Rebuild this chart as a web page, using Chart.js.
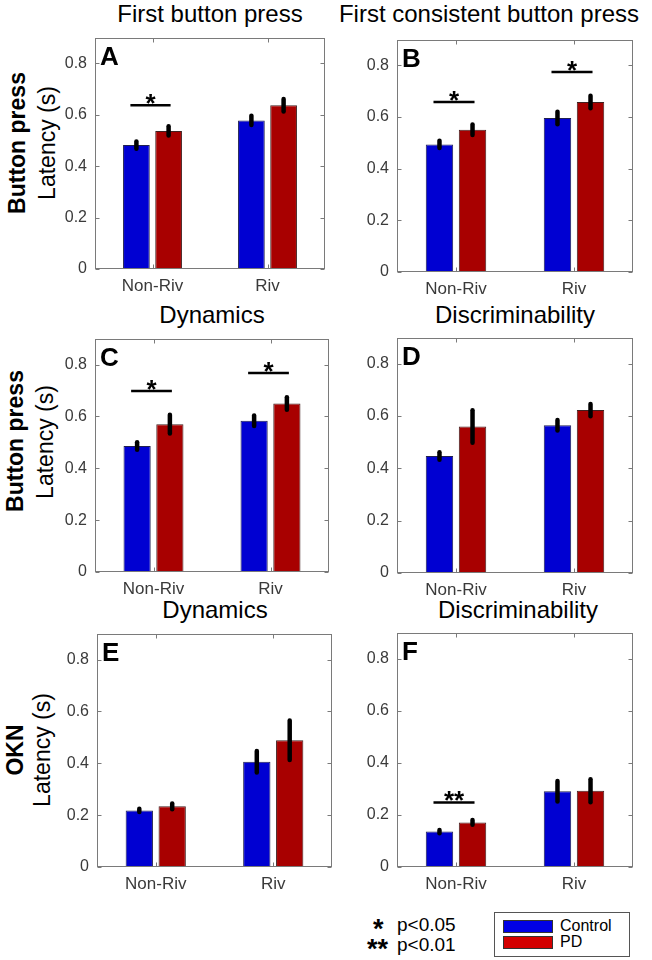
<!DOCTYPE html>
<html><head><meta charset="utf-8">
<script src="https://cdn.jsdelivr.net/npm/chart.js@4/dist/chart.umd.min.js"></script>
<style>
body{margin:0;background:#fff;width:652px;height:960px;position:relative;overflow:hidden;font-family:"Liberation Sans",Arial,Helvetica,sans-serif;}
canvas{position:absolute;}
.t{position:absolute;white-space:nowrap;transform:translate(-50%,-50%);color:#000;font-size:24px;line-height:1.15;}
.rl{position:absolute;white-space:nowrap;transform:translate(-50%,-50%) rotate(-90deg);font-size:23px;color:#000;line-height:1.15;}
.b{font-weight:bold;}
.fn{position:absolute;white-space:nowrap;transform:translateY(-50%);color:#000;line-height:1.15;}
</style></head><body>

<div class="t" style="left:210px;top:14px;">First button press</div>
<div class="t" style="left:489px;top:14px;">First consistent button press</div>
<div class="t" style="left:212px;top:315px;">Dynamics</div>
<div class="t" style="left:515px;top:315px;">Discriminability</div>
<div class="t" style="left:215px;top:610px;">Dynamics</div>
<div class="t" style="left:518px;top:610px;">Discriminability</div>

<div class="rl b" style="left:17px;top:143px;">Button press</div>
<div class="rl" style="left:47px;top:143px;">Latency (s)</div>
<div class="rl b" style="left:15px;top:441px;">Button press</div>
<div class="rl" style="left:45px;top:442px;">Latency (s)</div>
<div class="rl b" style="left:15px;top:750px;">OKN</div>
<div class="rl" style="left:42px;top:750px;">Latency (s)</div>

<div class="fn b" style="left:373px;top:930px;font-size:27px;">*</div>
<div class="fn" style="left:397px;top:925px;font-size:19px;">p&lt;0.05</div>
<div class="fn b" style="left:367px;top:950px;font-size:27px;">**</div>
<div class="fn" style="left:397px;top:945px;font-size:19px;">p&lt;0.01</div>

<div style="position:absolute;left:494px;top:912px;width:134px;height:43px;border:1px solid #555;background:#fff;"></div>
<div style="position:absolute;left:503px;top:920px;width:48px;height:11px;border:1px solid #333;background:#0000e6;"></div>
<div style="position:absolute;left:503px;top:936px;width:48px;height:11px;border:1px solid #333;background:#d40000;"></div>
<div class="fn" style="left:560px;top:926px;font-size:16px;">Control</div>
<div class="fn" style="left:560px;top:942px;font-size:16px;">PD</div>

<canvas id="cA"></canvas><canvas id="cB"></canvas>
<canvas id="cC"></canvas><canvas id="cD"></canvas>
<canvas id="cE"></canvas><canvas id="cF"></canvas>

<script>
// ---------- data ----------
const categories = ['Non-Riv', 'Riv'];
const seriesNames = ['Control', 'PD'];
const yTicks = [0, 0.2, 0.4, 0.6, 0.8];

const A_control = [0.482, 0.578], A_controlErr = [0.020, 0.024];
const A_pd      = [0.537, 0.637], A_pdErr      = [0.024, 0.030];
const A_sig     = [[0, 0.637, '*']];

const B_control = [0.494, 0.596], B_controlErr = [0.020, 0.030];
const B_pd      = [0.551, 0.658], B_pdErr      = [0.026, 0.030];
const B_sig     = [[0, 0.658, '*'], [1, 0.775, '*']];

const C_control = [0.486, 0.583], C_controlErr = [0.020, 0.026];
const C_pd      = [0.570, 0.650], C_pdErr      = [0.042, 0.030];
const C_sig     = [[0, 0.698, '*'], [1, 0.767, '*']];

const D_control = [0.447, 0.565], D_controlErr = [0.020, 0.026];
const D_pd      = [0.560, 0.623], D_pdErr      = [0.068, 0.029];
const D_sig     = [];

const E_control = [0.218, 0.406], E_controlErr = [0.012, 0.047];
const E_pd      = [0.234, 0.489], E_pdErr      = [0.017, 0.082];
const E_sig     = [];

const F_control = [0.136, 0.291], F_controlErr = [0.012, 0.045];
const F_pd      = [0.171, 0.293], F_pdErr      = [0.015, 0.050];
const F_sig     = [[0, 0.248, '**']];

// ---------- layout (plot boxes, pixels) ----------
const panels = [
  {id:'cA', letter:'A', L:95,  T:30,  R:325, B:269, c:A_control, ce:A_controlErr, p:A_pd, pe:A_pdErr, sig:A_sig},
  {id:'cB', letter:'B', L:397, T:32,  R:633, B:272, c:B_control, ce:B_controlErr, p:B_pd, pe:B_pdErr, sig:B_sig},
  {id:'cC', letter:'C', L:95,  T:331, R:329, B:572, c:C_control, ce:C_controlErr, p:C_pd, pe:C_pdErr, sig:C_sig},
  {id:'cD', letter:'D', L:397, T:330, R:633, B:573, c:D_control, ce:D_controlErr, p:D_pd, pe:D_pdErr, sig:D_sig},
  {id:'cE', letter:'E', L:97,  T:626, R:332, B:867, c:E_control, ce:E_controlErr, p:E_pd, pe:E_pdErr, sig:E_sig},
  {id:'cF', letter:'F', L:397, T:625, R:633, B:867, c:F_control, ce:F_controlErr, p:F_pd, pe:F_pdErr, sig:F_sig},
];
const PADL = 45, PADT = 10, PADR = 10, PADB = 35;
const FONT = '"Liberation Sans", Arial, Helvetica, sans-serif';

const decor = {
  id: 'decor',
  afterDatasetsDraw(chart, args, o) {
    const ctx = chart.ctx, a = chart.chartArea, xs = chart.scales.x, ys = chart.scales.y;
    ctx.save();
    // error bars
    ctx.strokeStyle = '#000'; ctx.lineCap = 'round'; ctx.lineWidth = 4.5;
    chart.data.datasets.forEach((ds, i) => {
      const meta = chart.getDatasetMeta(i);
      meta.data.forEach((bar, j) => {
        const v = ds.data[j], e = o.errs[i][j];
        ctx.beginPath();
        ctx.moveTo(bar.x, ys.getPixelForValue(v - e) - 1.5);
        ctx.lineTo(bar.x, ys.getPixelForValue(v + e) + 1.5);
        ctx.stroke();
      });
    });
    // significance
    ctx.lineCap = 'butt'; ctx.lineWidth = 2.5;
    ctx.fillStyle = '#000';
    ctx.font = 'bold 26px ' + FONT;
    ctx.textAlign = 'center'; ctx.textBaseline = 'alphabetic';
    o.sig.forEach(([cat, val, lab]) => {
      const b0 = chart.getDatasetMeta(0).data[cat], b1 = chart.getDatasetMeta(1).data[cat];
      const x0 = b0.x - 6, x1 = b1.x + 2, yy = ys.getPixelForValue(val);
      ctx.beginPath(); ctx.moveTo(x0, yy); ctx.lineTo(x1, yy); ctx.stroke();
      ctx.fillText(lab, (x0 + x1) / 2, yy + 7);
    });
    // box + inward ticks
    ctx.strokeStyle = '#7a7a7a'; ctx.lineWidth = 1;
    const l = Math.round(a.left) + 0.5, r = Math.round(a.right) - 0.5;
    const t = Math.round(a.top) + 0.5, btm = Math.round(a.bottom) - 0.5;
    ctx.strokeRect(l, t, r - l, btm - t);
    ctx.beginPath();
    yTicks.forEach(v => {
      const yy = Math.round(ys.getPixelForValue(v)) + 0.5;
      ctx.moveTo(l, yy); ctx.lineTo(l + 4, yy);
      ctx.moveTo(r, yy); ctx.lineTo(r - 4, yy);
    });
    categories.forEach((c, j) => {
      const xx = Math.round(xs.getPixelForValue(j)) + 0.5;
      ctx.moveTo(xx, btm); ctx.lineTo(xx, btm - 4);
      ctx.moveTo(xx, t); ctx.lineTo(xx, t + 4);
    });
    ctx.stroke();
    // panel letter
    ctx.fillStyle = '#000';
    ctx.font = 'bold 26px ' + FONT;
    ctx.textAlign = 'left';
    ctx.fillText(o.letter, a.left + 5, a.top + 27);
    ctx.restore();
  }
};

panels.forEach(P => {
  const cv = document.getElementById(P.id);
  const w = (P.R - P.L) + PADL + PADR, h = (P.B - P.T) + PADT + PADB;
  cv.width = w; cv.height = h;
  cv.style.left = (P.L - PADL) + 'px'; cv.style.top = (P.T - PADT) + 'px';
  cv.style.width = w + 'px'; cv.style.height = h + 'px';
  new Chart(cv, {
    type: 'bar',
    data: {
      labels: categories,
      datasets: [
        {label: seriesNames[0], data: P.c, backgroundColor: '#0000d2', borderColor: '#202050', borderWidth: 1,
         barPercentage: 0.83, categoryPercentage: 0.56},
        {label: seriesNames[1], data: P.p, backgroundColor: '#a80000', borderColor: '#402020', borderWidth: 1,
         barPercentage: 0.83, categoryPercentage: 0.56}
      ]
    },
    options: {
      responsive: false, animation: false, devicePixelRatio: 1,
      layout: {padding: {left: 0, top: PADT, right: PADR, bottom: 0}},
      plugins: {legend: {display: false}, tooltip: {enabled: false}, title: {display: false},
        decor: {errs: [P.ce, P.pe], sig: P.sig, letter: P.letter}},
      scales: {
        x: {type: 'category', offset: true,
            grid: {display: false, drawTicks: false}, border: {display: false},
            afterFit(s) { s.height = PADB; },
            ticks: {padding: 7, color: '#3a3a3a', font: {size: 17, family: FONT}, maxRotation: 0}},
        y: {min: 0, max: 0.9,
            grid: {display: false, drawTicks: false}, border: {display: false},
            afterFit(s) { s.width = PADL; },
            afterBuildTicks(s) { s.ticks = yTicks.map(v => ({value: v})); },
            ticks: {padding: 8, color: '#3a3a3a', font: {size: 16, family: FONT},
                    callback: v => String(v)}}
      }
    },
    plugins: [decor]
  });
});
</script>
</body></html>
